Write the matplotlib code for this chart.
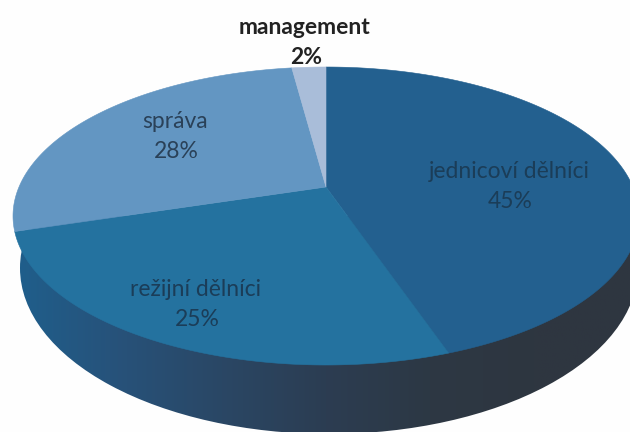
import numpy as np
import matplotlib
matplotlib.use('Agg')
import matplotlib.pyplot as plt
from matplotlib.colors import LinearSegmentedColormap
from matplotlib.patches import Ellipse

# data
categories = ['jednicoví dělníci', 'režijní dělníci', 'správa', 'management']
shares = [45, 25, 28, 2]
top_colors = ['#23608f', '#24729f', '#6396c2', '#a9bdd9']

plt.rcParams['font.family'] = ['Lato', 'DejaVu Sans']

# pie geometry in pixels: top ellipse, apex is off centre because of the perspective
cx, cy, rx, ry = 326, 216, 313, 149
ax0, ay0 = 326, 187
tilt = 0.44


def rim(theta):
    # ray from the apex to the ellipse edge, theta runs clockwise from 12 o'clock
    dx = np.sin(theta)
    dy = -np.cos(theta) * tilt
    a = (dx / rx) ** 2 + (dy / ry) ** 2
    b = 2 * (ax0 - cx) * dx / rx ** 2 + 2 * (ay0 - cy) * dy / ry ** 2
    c = ((ax0 - cx) / rx) ** 2 + ((ay0 - cy) / ry) ** 2 - 1
    t = (-b + np.sqrt(b * b - 4 * a * c)) / (2 * a)
    return ax0 + t * dx, ay0 + t * dy


fig = plt.figure(figsize=(6.3, 4.32), dpi=100, facecolor='#fefefe')
ax = fig.add_axes([0, 0, 1, 1])
ax.set_xlim(0, 630)
ax.set_ylim(432, 0)
ax.axis('off')

# side of the pie, dark gradient clipped to the lower ellipse
side_cmap = LinearSegmentedColormap.from_list(
    'side', ['#1f5f8c', '#27527a', '#2a4765', '#2c3d52', '#2d3844', '#2e3640', '#2f3640'])
grad = np.linspace(0, 1, 256).reshape(1, -1)
im = ax.imshow(grad, cmap=side_cmap, extent=[12, 640, 440, 216], aspect='auto', zorder=1)
low = Ellipse((329, 268), 618, 332, transform=ax.transData, fc='none', ec='none')
ax.add_patch(low)
im.set_clip_path(low)
ax.set_xlim(0, 630)
ax.set_ylim(432, 0)

# top face
edges = np.cumsum([0] + shares) / sum(shares) * 2 * np.pi
for i in range(len(shares)):
    th = np.linspace(edges[i], edges[i + 1], 200)
    xs, ys = rim(th)
    ax.fill(np.r_[ax0, xs], np.r_[ay0, ys], fc=top_colors[i], ec=top_colors[i], lw=0.4, zorder=2)

# labels
lab_pos = [(509, 171), (196, 290), (175, 121), (305, 27)]
lab_col = ['#1b3d58', '#1b3d58', '#2a4158', '#222222']
for name, val, (x, y), col in zip(categories, shares, lab_pos, lab_col):
    w = 'bold' if name == 'management' else 'normal'
    ax.text(x, y, name, ha='center', va='center', fontsize=16.5, color=col, weight=w, zorder=3)
    ax.text(x + 1, y + 30, f'{val}%', ha='center', va='center', fontsize=16.5, color=col, weight=w, zorder=3)

fig.savefig('out.png', dpi=100, facecolor=fig.get_facecolor())
